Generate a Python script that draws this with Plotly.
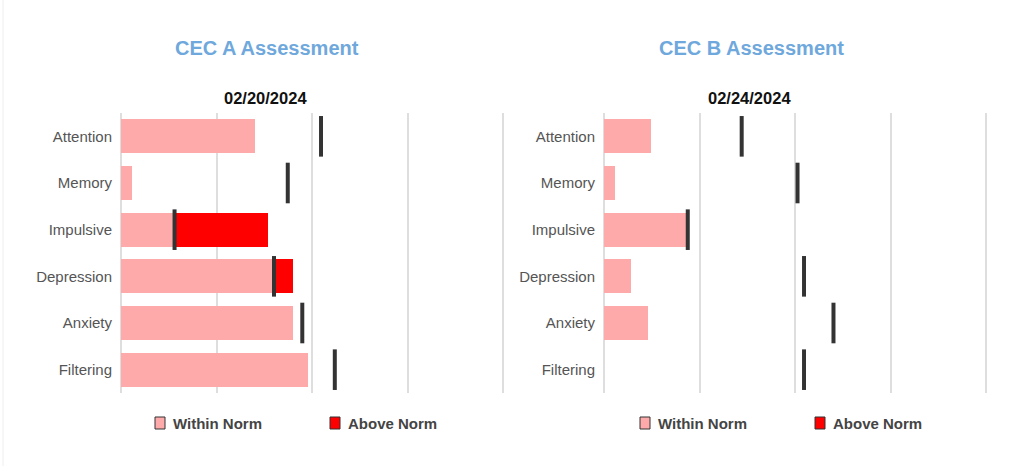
import plotly.graph_objects as go

# ---------------- data ----------------
categories = ["Attention", "Memory", "Impulsive", "Depression", "Anxiety", "Filtering"]

a_title = "CEC A Assessment"
a_date = "02/20/2024"
a_within = [35, 3, 14, 40, 45, 49]
a_above = [0, 0, 24.5, 5, 0, 0]
a_norm = [52.3, 43.6, 14, 40, 47.4, 55.9]

b_title = "CEC B Assessment"
b_date = "02/24/2024"
b_within = [12.4, 2.9, 21.7, 7.0, 11.5, 0]
b_above = [0, 0, 0, 0, 0, 0]
b_norm = [36.0, 50.6, 21.9, 52.3, 60.0, 52.3]

x_ticks = [0, 25, 50, 75, 100]
legend_labels = ["Within Norm", "Above Norm"]

# ---------------- style ----------------
W, H = 1024, 466
WITHIN_C = "#ffaaaa"
ABOVE_C = "#ff0000"
NORM_C = "#333333"
GRID_C = "#dedede"
TITLE_C = "#6fa8dc"
FONT = "Liberation Sans, Arial, sans-serif"


def px(x):
    return x / W


def py(y):
    return 1 - y / H


fig = go.Figure()

panels = [
    (a_within, a_above, a_norm, "x", "y"),
    (b_within, b_above, b_norm, "x2", "y2"),
]
for within, above, norm, xa, ya in panels:
    fig.add_trace(go.Bar(y=categories, x=within, orientation="h", marker=dict(color=WITHIN_C, line=dict(width=0)),
                         name=legend_labels[0], xaxis=xa, yaxis=ya, showlegend=False, hoverinfo="x+y"))
    fig.add_trace(go.Bar(y=categories, x=above, orientation="h", marker=dict(color=ABOVE_C, line=dict(width=0)),
                         name=legend_labels[1], xaxis=xa, yaxis=ya, showlegend=False, hoverinfo="x+y"))
    fig.add_trace(go.Scatter(y=categories, x=norm, mode="markers", xaxis=xa, yaxis=ya, showlegend=False,
                             marker=dict(symbol="line-ns", size=29, line=dict(width=4, color=NORM_C)),
                             name="Norm", hoverinfo="x+y", cliponaxis=False))

y_dom = [py(393), py(113)]
xcommon = dict(range=[0, 100.4], tickvals=x_ticks, showticklabels=False, showgrid=True, gridcolor=GRID_C,
               gridwidth=1.5, zeroline=True, zerolinecolor=GRID_C, zerolinewidth=1.5, showline=False,
               fixedrange=True)
ycommon = dict(categoryorder="array", categoryarray=categories, range=[len(categories) - 0.5, -0.5],
               showgrid=False, zeroline=False, showline=False, ticks="", ticklabelstandoff=8,
               tickfont=dict(family=FONT, size=15, color="#555555"), fixedrange=True)

fig.update_layout(
    width=W, height=H,
    margin=dict(l=0, r=0, t=0, b=0),
    paper_bgcolor="white", plot_bgcolor="white",
    barmode="stack", bargap=0.27,
    showlegend=False,
    xaxis=dict(domain=[px(121), px(505)], anchor="y", **xcommon),
    yaxis=dict(domain=y_dom, anchor="x", **ycommon),
    xaxis2=dict(domain=[px(604), px(988)], anchor="y2", **xcommon),
    yaxis2=dict(domain=y_dom, anchor="x2", **ycommon),
    font=dict(family=FONT),
)

annotations = []
shapes = []
for title, date, cx, leg_x in [(a_title, a_date, 267, (155, 330)), (b_title, b_date, 751, (640, 815))]:
    annotations.append(dict(text=f"<b>{title}</b>", x=px(cx), y=py(48), xref="paper", yref="paper",
                            showarrow=False, font=dict(family=FONT, size=20, color=TITLE_C),
                            xanchor="center", yanchor="middle"))
    annotations.append(dict(text=f"<b>{date}</b>", x=px(cx - 2), y=py(98), xref="paper", yref="paper",
                            showarrow=False, font=dict(family=FONT, size=16.5, color="#111111"),
                            xanchor="center", yanchor="middle"))
    for lx, lab, col in zip(leg_x, legend_labels, [WITHIN_C, ABOVE_C]):
        shapes.append(dict(type="rect", xref="paper", yref="paper", x0=px(lx), x1=px(lx + 10),
                           y0=py(429), y1=py(417), fillcolor=col, line=dict(color="#333333", width=1)))
        annotations.append(dict(text=f"<b>{lab}</b>", x=px(lx + 16), y=py(423), xref="paper", yref="paper",
                                showarrow=False, font=dict(family=FONT, size=15, color="#444444"),
                                xanchor="left", yanchor="middle"))

shapes.append(dict(type="line", xref="paper", yref="paper", x0=px(3), x1=px(3), y0=0, y1=1,
                   line=dict(color="#eeeeee", width=1)))

fig.update_layout(annotations=annotations, shapes=shapes)

fig.write_html("out.html", config={"displayModeBar": False},
               post_script="document.body.style.margin='0';document.body.style.overflow='hidden';")
